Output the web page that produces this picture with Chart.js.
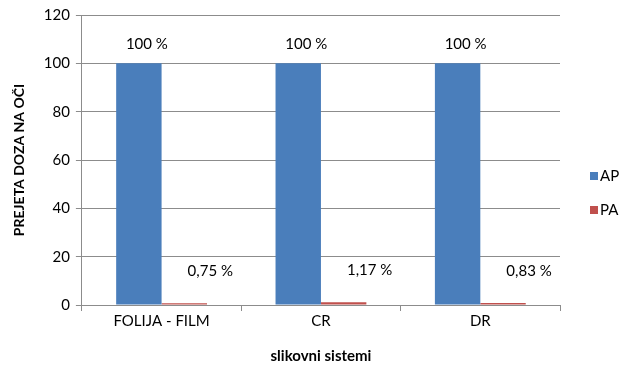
<!DOCTYPE html>
<html>
<head>
<meta charset="utf-8">
<script src="https://cdn.jsdelivr.net/npm/chart.js@4"></script>
<style>
  html, body { margin: 0; padding: 0; background: #fff; }
  #wrap { width: 632px; height: 365px; }
</style>
</head>
<body>
<div id="wrap"><canvas id="chart"></canvas></div>
<script>
const categories = ['FOLIJA - FILM', 'CR', 'DR'];
const apValues = [100, 100, 100];
const paValues = [0.75, 1.17, 0.83];
const yTicks = [0, 20, 40, 60, 80, 100, 120];

const FONT = 'Lato, "Open Sans", sans-serif';
const GRID = '#8c8c8c';

const fmt = v => String(v).replace('.', ',') + ' %';

// Value labels above bars
const valueLabels = {
    id: 'valueLabels',
    afterDatasetsDraw(chart) {
        const ctx = chart.ctx;
        ctx.save();
        ctx.font = '15px ' + FONT;
        ctx.fillStyle = '#000';
        ctx.textAlign = 'center';
        ctx.textBaseline = 'middle';
        chart.data.datasets.forEach((ds, i) => {
            const meta = chart.getDatasetMeta(i);
            meta.data.forEach((bar, j) => {
                if (i === 0) {
                    ctx.fillText(fmt(ds.data[j]), bar.x + 8, bar.y - 19);
                } else {
                    ctx.fillText(fmt(ds.data[j]), bar.x + 26, bar.y - 32);
                }
            });
        });
        ctx.restore();
    }
};

// Legend on the right
const sideLegend = {
    id: 'sideLegend',
    afterDraw(chart) {
        const ctx = chart.ctx;
        const x = chart.chartArea.right + 30;
        ctx.save();
        ctx.font = '15px ' + FONT;
        ctx.textBaseline = 'middle';
        ctx.textAlign = 'left';
        chart.data.datasets.forEach((ds, i) => {
            const y = 176 + i * 34;
            ctx.fillStyle = ds.backgroundColor;
            ctx.fillRect(x, y - 4, 8, 8);
            ctx.fillStyle = '#000';
            ctx.fillText(ds.label, x + 10, y);
        });
        ctx.restore();
    }
};

new Chart(document.getElementById('chart'), {
    type: 'bar',
    data: {
        labels: categories,
        datasets: [
            { label: 'AP', data: apValues, backgroundColor: '#4a7ebb' },
            { label: 'PA', data: paValues, backgroundColor: '#c0504d' }
        ]
    },
    options: {
        responsive: true,
        maintainAspectRatio: false,
        animation: false,
        layout: { padding: { top: 11, right: 72, left: 7, bottom: 0 } },
        datasets: { bar: { categoryPercentage: 0.57, barPercentage: 1 } },
        plugins: {
            legend: { display: false },
            tooltip: { enabled: false }
        },
        scales: {
            x: {
                grid: { drawOnChartArea: false, drawTicks: true, tickLength: 6, color: GRID, offset: true },
                border: { color: GRID },
                ticks: { color: '#000', font: { size: 15, family: FONT }, padding: 1 },
                title: { display: true, text: 'slikovni sistemi', color: '#000', font: { size: 15, weight: 'bold', family: FONT }, padding: { top: 16, bottom: 0 } }
            },
            y: {
                min: 0,
                max: 120,
                afterBuildTicks: axis => { axis.ticks = yTicks.map(v => ({ value: v })); },
                grid: { color: GRID, tickLength: 6 },
                border: { color: GRID },
                ticks: { color: '#000', font: { size: 15, family: FONT }, padding: 6 },
                title: { display: true, text: 'PREJETA DOZA NA OČI', color: '#000', font: { size: 14, weight: 'bold', family: FONT }, padding: { bottom: 10 } }
            }
        }
    },
    plugins: [valueLabels, sideLegend]
});
</script>
</body>
</html>
